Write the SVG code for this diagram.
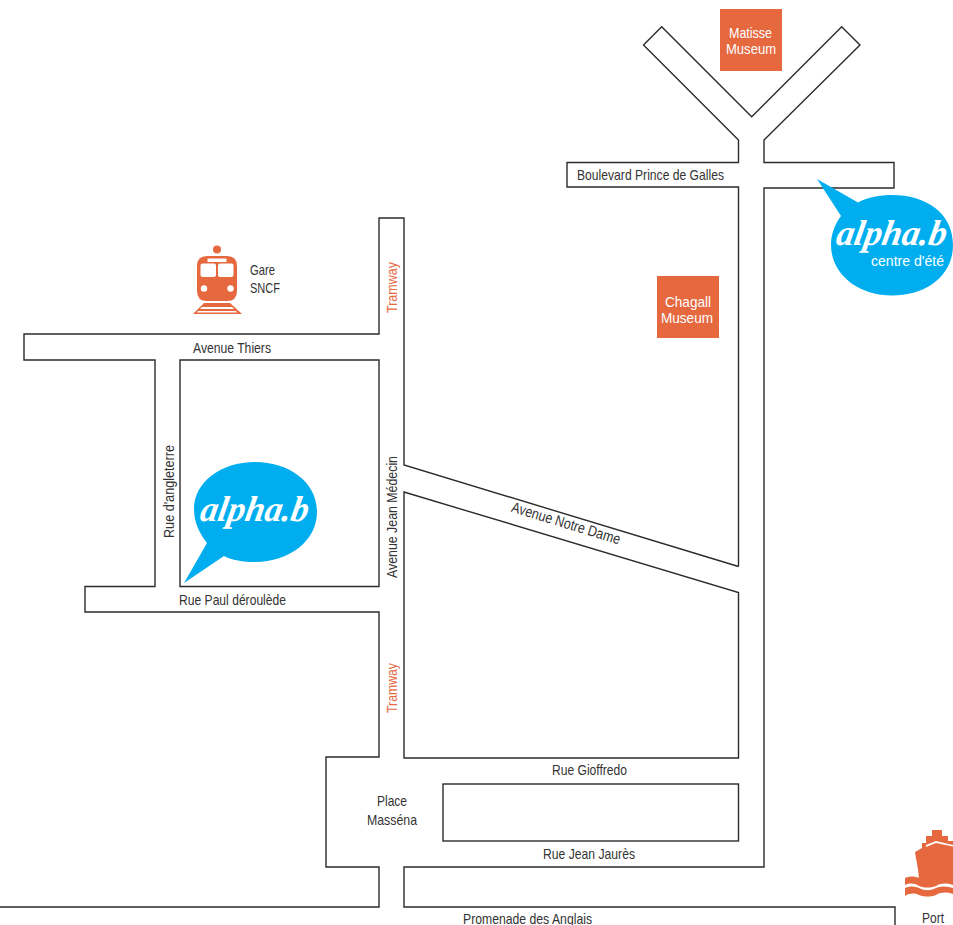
<svg xmlns="http://www.w3.org/2000/svg" width="953" height="925" viewBox="0 0 953 925">
<style>
.road{fill:none;stroke:#2b2b2b;stroke-width:1.4;stroke-linejoin:miter}
text{font-family:"Liberation Sans",Arial,sans-serif;font-size:15px;fill:#333;text-anchor:middle}
.wh{fill:#fff}
.org{fill:#e5683f}
.blue{fill:#00aeef}
text.lt{fill:#fff}
text.tram{fill:#e5683f}
text.brand{font-family:"Liberation Serif",serif;font-style:italic;font-weight:bold;font-size:36px;fill:#fff}
</style>
<rect width="953" height="925" fill="#fff"/>
<g id="connectors">
<path class="road" d="M738.500 566.500V187H567V162.500H738.500V140L643.500 45L661.700 26.700L751.700 116.700L841.700 26.700L860 45L764 140V162.500H894V188H764V867H404V907H895V925"/>
<path class="road" d="M0 907H379V867H326V757H379V612H85V586.500H155V360H24V334H379V218H404V465L738.500 566.500"/>
<path class="road" d="M180 360H379V586.500H180Z"/>
<path class="road" d="M404 492L738.500 592.500V758H404Z"/>
<rect class="road" x="443" y="784" width="295.500" height="57"/>
</g>
<g id="matisse">
<rect class="org" x="720" y="9" width="62" height="62"/>
<text x="750.500" y="38" class="lt" textLength="43" lengthAdjust="spacingAndGlyphs">Matisse</text>
<text x="751" y="53.500" class="lt" textLength="50" lengthAdjust="spacingAndGlyphs">Museum</text>
</g>
<g id="chagall">
<rect class="org" x="657" y="276" width="62" height="62"/>
<text x="688" y="306.500" class="lt" textLength="46" lengthAdjust="spacingAndGlyphs">Chagall</text>
<text x="687" y="322.500" class="lt" textLength="52" lengthAdjust="spacingAndGlyphs">Museum</text>
</g>
<g id="gare">
<circle class="org" cx="217" cy="249.500" r="4"/>
<path class="org" d="M207 256H227Q237 256 237 266V291Q237 301 227 301H207Q197 301 197 291V266Q197 256 207 256Z"/>
<rect class="wh" x="207.500" y="258.500" width="19" height="3.500"/>
<rect class="wh" x="200.500" y="263.500" width="15.500" height="13.500" rx="2"/>
<rect class="wh" x="218" y="263.500" width="15.500" height="13.500" rx="2"/>
<circle class="wh" cx="204" cy="288.500" r="3.200"/>
<circle class="wh" cx="230.500" cy="288.500" r="3.200"/>
<path class="org" d="M204 303H230L242 314H193ZM202 307L200 309H234L232 307ZM198 311L197 312.500H237L236 311Z" fill-rule="evenodd"/>
<text x="262.500" y="274.500" textLength="25" lengthAdjust="spacingAndGlyphs">Gare</text>
<text x="265" y="292.500" textLength="30" lengthAdjust="spacingAndGlyphs">SNCF</text>
</g>
<g id="alpha-centre">
<path class="blue" d="M817 179L858 202.500C868 197 880 195 892 195C926 195 953 213 953 245C953 276 926 295.500 892 295.500C858 295.500 831 274 831 245C831 234 835 224 841 216Z"/>
<text transform="translate(890 245) skewX(-10)" class="brand" textLength="110" lengthAdjust="spacingAndGlyphs">alpha.b</text>
<text x="907.500" y="266" class="lt" textLength="73" lengthAdjust="spacingAndGlyphs">centre d'été</text>
</g>
<g id="alpha">
<path class="blue" d="M184 583L207 543C198 532 194 520 194 509C194 482 221 462 255 462C289 462 317 482 317 512C317 541 289 562 255 562C243 562 232 560 224 556Z"/>
<text transform="translate(253 521) skewX(-10)" class="brand" textLength="108" lengthAdjust="spacingAndGlyphs">alpha.b</text>
</g>
<g id="port">
<path class="org" d="M932 830H942V836H948V841H953V882H919C919 870 916 860 915 852L922 848V843H926V836H932Z"/>
<path d="M926 845L936 841L953 845V846.500L936 843L926 847Z" fill="#fff"/>
<path class="org" d="M905 878C910 876 914 876 919 878C925 881 930 881 936 878C941 876 947 876 953 878V885C947 883 941 883 936 886C930 888 925 888 919 886C914 883 910 883 905 885ZM905 888C910 886 914 886 919 888C925 891 930 891 936 888C941 886 947 886 953 888V894C947 892 941 892 936 895C930 897 925 897 919 895C914 893 910 893 905 896Z"/>
<text x="933" y="923" textLength="22" lengthAdjust="spacingAndGlyphs">Port</text>
</g>
<g id="labels">
<text x="650.500" y="179.500" textLength="147" lengthAdjust="spacingAndGlyphs">Boulevard Prince de Galles</text>
<text x="232" y="353" textLength="78" lengthAdjust="spacingAndGlyphs">Avenue Thiers</text>
<text x="232.500" y="604.500" textLength="107" lengthAdjust="spacingAndGlyphs">Rue Paul déroulède</text>
<text transform="translate(174 491.500) rotate(-90)" textLength="93" lengthAdjust="spacingAndGlyphs">Rue d'angleterre</text>
<text transform="translate(397 517) rotate(-90)" textLength="122" lengthAdjust="spacingAndGlyphs">Avenue Jean Médecin</text>
<text transform="translate(396.500 287.500) rotate(-90)" class="tram" textLength="51" lengthAdjust="spacingAndGlyphs">Tramway</text>
<text transform="translate(397 688) rotate(-90)" class="tram" textLength="50" lengthAdjust="spacingAndGlyphs">Tramway</text>
<text transform="translate(564.500 528) rotate(17)" textLength="113" lengthAdjust="spacingAndGlyphs">Avenue Notre Dame</text>
<text x="589.500" y="775" textLength="75" lengthAdjust="spacingAndGlyphs">Rue Gioffredo</text>
<text x="589" y="858.500" textLength="92" lengthAdjust="spacingAndGlyphs">Rue Jean Jaurès</text>
<text x="392" y="806" textLength="30" lengthAdjust="spacingAndGlyphs">Place</text>
<text x="392" y="824.500" textLength="50" lengthAdjust="spacingAndGlyphs">Masséna</text>
<text x="527.500" y="923.500" textLength="129" lengthAdjust="spacingAndGlyphs">Promenade des Anglais</text>
</g>
</svg>
